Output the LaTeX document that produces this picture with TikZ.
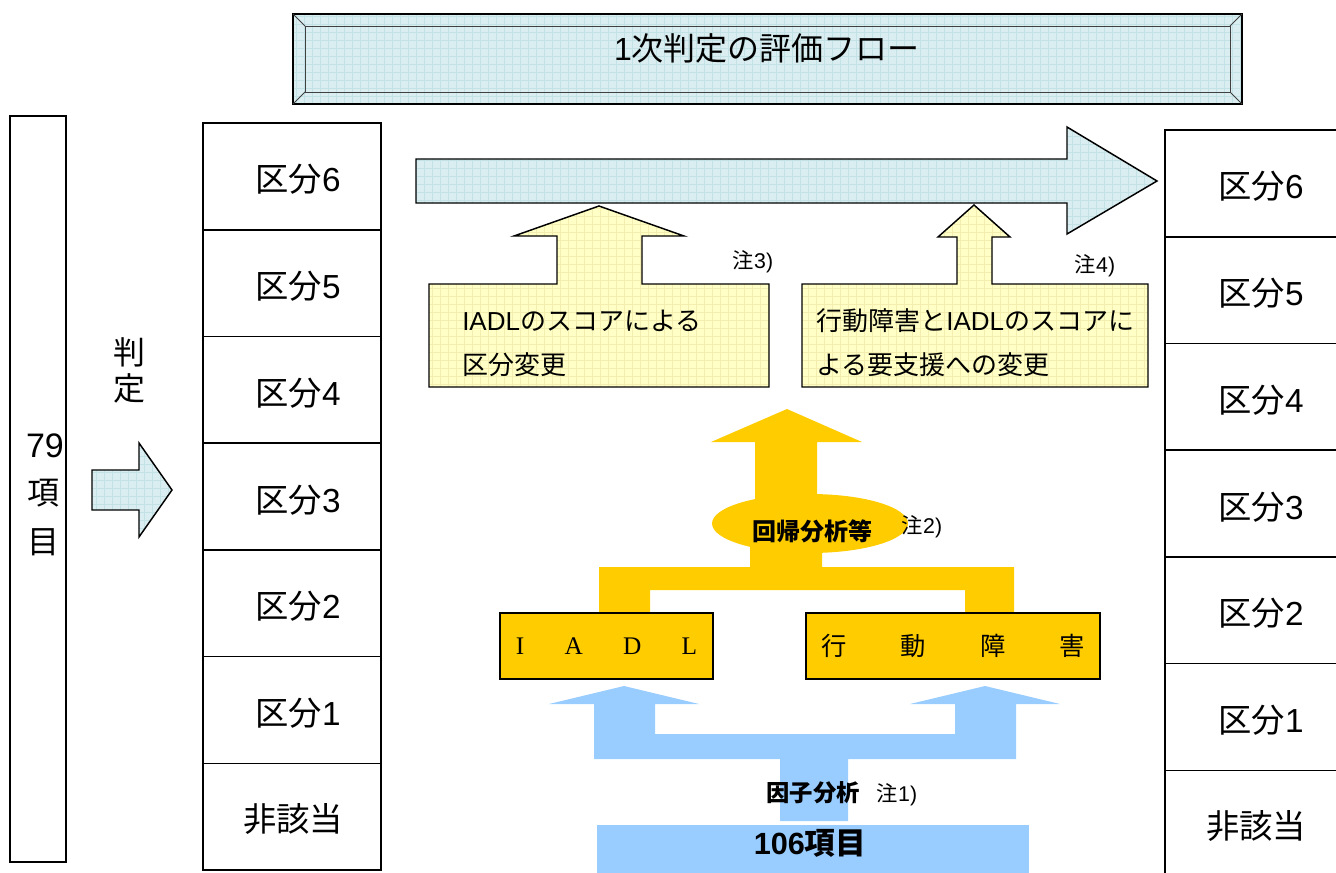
\documentclass[tikz,border=0pt]{standalone}
\usepackage{fontspec}
\setmainfont{Noto Sans CJK JP}
\newfontfamily\serifx{Liberation Serif}
\newfontfamily\lat{Liberation Sans}
\definecolor{cyanf}{HTML}{DAEEF1}
\definecolor{cyang}{HTML}{C2E2E6}
\definecolor{yelf}{HTML}{FFFFC6}
\definecolor{yelg}{HTML}{F3EEB0}
\definecolor{bluef}{HTML}{99CCFF}
\definecolor{orangef}{HTML}{FFCC00}
\tikzset{
  cyangrid/.style={fill=cyanf, path picture={\draw[cyang,line width=0.4pt,step=6pt] (path picture bounding box.south west) grid (path picture bounding box.north east);}},
  yelgrid/.style={fill=yelf, path picture={\draw[yelg,line width=0.4pt,step=6pt] (path picture bounding box.south west) grid (path picture bounding box.north east);}},
  outl/.style={draw=black, line width=1.1pt, line join=miter},
  cellframe/.style={draw=black, line width=1.1pt, inner sep=0pt, outer sep=0pt, minimum height=80pt},
  celltext/.style={inner sep=0pt, font=\fontsize{25}{29}\selectfont},
  big/.style={font=\fontsize{24}{28}\selectfont, inner sep=0pt},
  yeltext/.style={anchor=west, inner sep=0pt, font=\fontsize{19.5}{23}\selectfont},
  note/.style={inner sep=0pt, font=\fontsize{16}{19}\selectfont},
  orangebox/.style={draw=black, line width=1.2pt, fill=orangef, inner sep=0pt, outer sep=0pt},
}
\begin{document}
\begin{tikzpicture}[x=0.75pt,y=-0.75pt]
\useasboundingbox (0,0) rectangle (1336,872);
\clip (0,0) rectangle (1336,872);

% title bevel box
\path[cyangrid] (293,14) rectangle (1242,104);
\draw[line width=1.4pt] (293,14) rectangle (1242,104);
\draw[line width=0.6pt, black!75] (305,26) rectangle (1230,92);
\draw[line width=0.6pt, black!75] (293,14) -- (305,26) (1242,14) -- (1230,26) (293,104) -- (305,92) (1242,104) -- (1230,92);
\node[big] (title) at (767,48) {{\lat 1}次判定の評価フロー};

% left tall box
\node[draw=black, line width=1.1pt, minimum width=42pt, minimum height=559.5pt, inner sep=0pt] (items79) at (38,489) {};
\node[big, font=\fontsize{25.5}{29}\selectfont] (t79) at (45,446) {\lat 79};
\node[big] (tko) at (43,493) {項};
\node[big] (tmoku) at (43,542) {目};

% hantei
\node[big] (han) at (129,352) {判};
\node[big] (tei) at (129,388) {定};

% small arrow
\path[cyangrid, outl] (92,470) -- (139,470) -- (139,443) -- (172,490) -- (139,537) -- (139,510) -- (92,510) -- cycle;

% left column
\foreach \i/\y in {6/176.4,5/283.1,4/389.8,3/496.5,2/603.2,1/709.9,0/816.6}
  \node[cellframe, minimum width=133.5pt] (LB\i) at (292,\y) {};
\node[celltext] (L6) at (298,179) {区分{\lat 6}};
\node[celltext] (L5) at (298,286) {区分{\lat 5}};
\node[celltext] (L4) at (298,393) {区分{\lat 4}};
\node[celltext] (L3) at (298,500) {区分{\lat 3}};
\node[celltext] (L2) at (298,606) {区分{\lat 2}};
\node[celltext] (L1) at (298,713) {区分{\lat 1}};
\node[celltext] (L0) at (293,819) {非該当};

% right column
\foreach \i/\y in {6/183.4,5/290.1,4/396.8,3/503.5,2/610.2,1/716.9,0/823.6}
  \node[cellframe, minimum width=142.5pt] (RB\i) at (1260,\y) {};
\node[celltext] (R6) at (1261,186) {区分{\lat 6}};
\node[celltext] (R5) at (1261,293) {区分{\lat 5}};
\node[celltext] (R4) at (1261,400) {区分{\lat 4}};
\node[celltext] (R3) at (1261,507) {区分{\lat 3}};
\node[celltext] (R2) at (1261,613) {区分{\lat 2}};
\node[celltext] (R1) at (1261,720) {区分{\lat 1}};
\node[celltext] (R0) at (1256,826) {非該当};

% big right arrow
\path[cyangrid, outl] (416,159) -- (1067,159) -- (1067,127) -- (1157,181) -- (1067,234) -- (1067,203) -- (416,203) -- cycle;

% yellow callouts
\path[yelgrid, outl] (429,387) -- (429,284) -- (557,284) -- (557,236) -- (514,236) -- (599,206) -- (684,236) -- (642,236) -- (642,284) -- (769,284) -- (769,387) -- cycle;
\node[yeltext] (c1a) at (462,321) {{\lat IADL}のスコアによる};
\node[yeltext] (c1b) at (462,365) {区分変更};
\node[note] (n3) at (753,262) {注{\lat 3)}};

\path[yelgrid, outl] (802,387) -- (802,284) -- (957,284) -- (957,237) -- (938,237) -- (974,205) -- (1010,237) -- (992,237) -- (992,284) -- (1148,284) -- (1148,387) -- cycle;
\node[yeltext] (c2a) at (816,321) {行動障害と{\lat IADL}のスコアに};
\node[yeltext] (c2b) at (816,365) {よる要支援への変更};
\node[note] (n4) at (1095,266) {注{\lat 4)}};

% orange arrow structure
\fill[orangef] (599,613) -- (599,567) -- (750,567) -- (750,540) -- (822,540) -- (822,567) -- (1014,567) -- (1014,613) -- (965,613) -- (965,590) -- (650,590) -- (650,613) -- cycle;
\fill[orangef] (810,523.5) ellipse [x radius=98, y radius=29.5];
\fill[orangef] (755,510) -- (755,442) -- (711,442) -- (787,409) -- (862,442) -- (817,442) -- (817,510) -- cycle;
\node[inner sep=0pt, font=\fontsize{18}{21}\selectfont\bfseries] (reg) at (812,531) {回帰分析等};
\node[note] (n2) at (922,527) {注{\lat 2)}};

\node[orangebox, minimum width=159.75pt, minimum height=49.5pt] (iadl) at (606.5,646) {\serifx\fontsize{19}{22}\selectfont\makebox[136pt][s]{I\hfill A\hfill D\hfill L}};
\node[orangebox, minimum width=220.5pt, minimum height=49.5pt] (kodo) at (953,646) {\fontsize{19}{22}\selectfont\makebox[198pt][s]{行\hfill 動\hfill 障\hfill 害}};

% blue arrow structure
\fill[bluef] (780,821) -- (780,759) -- (594,759) -- (594,704) -- (549,704) -- (624,686) -- (699,704) -- (655,704) -- (655,734) -- (955,734) -- (955,704) -- (910,704) -- (985,686) -- (1060,704) -- (1016,704) -- (1016,759) -- (848,759) -- (848,821) -- cycle;
\node[fill=bluef, inner sep=0pt, minimum width=324pt, minimum height=39pt] (items106) at (813,850.5) {};
\node[inner sep=0pt, font=\fontsize{23}{27}\selectfont\bfseries] (t106) at (810,843) {{\lat\bfseries 106}項目};
\node[inner sep=0pt, font=\fontsize{17.5}{20}\selectfont\bfseries] (factor) at (813,793) {因子分析};
\node[note] (n1) at (897,795) {注{\lat 1)}};
\end{tikzpicture}
\end{document}
